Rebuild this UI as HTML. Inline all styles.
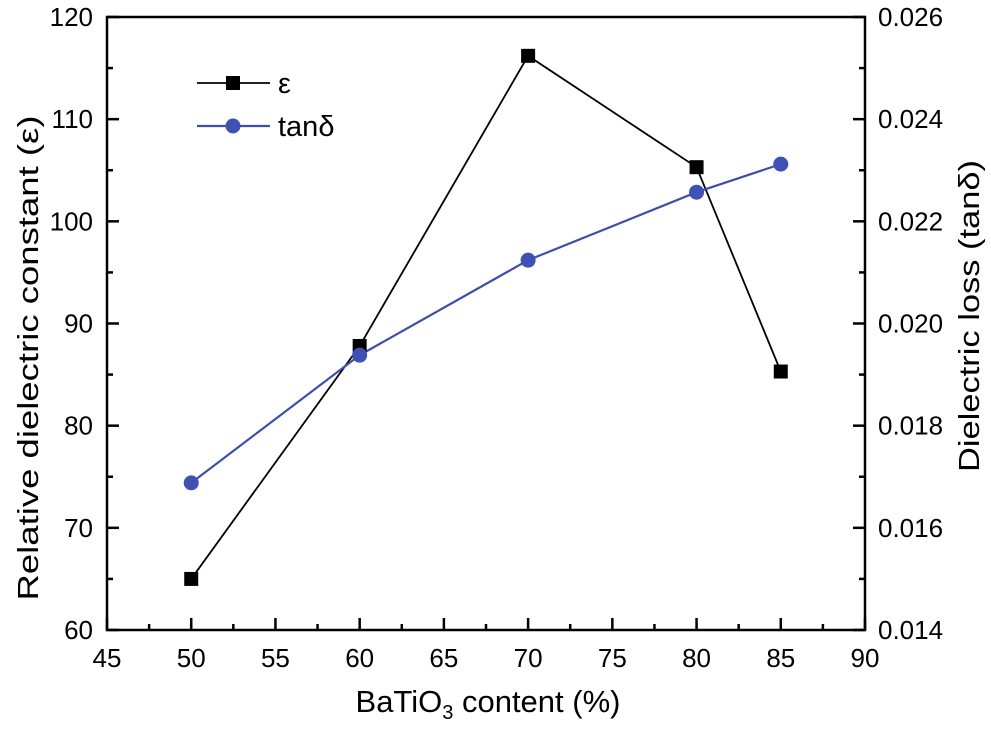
<!DOCTYPE html>
<html><head><meta charset="utf-8"><style>
body{margin:0;background:#fff;}
svg{display:block;font-family:"Liberation Sans",Arial,sans-serif;}
</style></head><body>
<svg id="chart" width="991" height="731"></svg>
<script>
const categories=[50,60,70,80,85];
const epsValues=[65.0,87.8,116.2,105.3,85.3];
const tanValues=[0.01688,0.01938,0.02124,0.02257,0.02312];
const xTicks=[45,50,55,60,65,70,75,80,85,90];
const yTicks=[60,70,80,90,100,110,120];
const y2Ticks=[0.014,0.016,0.018,0.020,0.022,0.024,0.026];
const NS="http://www.w3.org/2000/svg";
const svg=document.getElementById('chart');
const L=107,R=865,T=17,B=630;
const xs=v=>L+(v-45)/45*(R-L);
const ys=v=>B-(v-60)/60*(B-T);
const y2s=v=>B-(v-0.014)/0.012*(B-T);
function el(tag,attrs,parent){const e=document.createElementNS(NS,tag);for(const k in attrs)e.setAttribute(k,attrs[k]);(parent||svg).appendChild(e);return e;}
const axes=el('g',{});


el('rect',{x:L,y:T,width:R-L,height:B-T,fill:'none',stroke:'#000','stroke-width':2.5},axes);
xTicks.forEach((t,i)=>{
  const x=xs(t);
  el('line',{x1:x,x2:x,y1:B,y2:B-12,stroke:'#000','stroke-width':2.5},axes);
  if(i<xTicks.length-1){const m=xs(t+2.5);el('line',{x1:m,x2:m,y1:B,y2:B-6,stroke:'#000','stroke-width':2.5},axes);}
  const tx=el('text',{x:x,y:B+37,'font-size':26,'text-anchor':'middle'},axes);tx.textContent=t;
  
  
});
yTicks.forEach((t,i)=>{
  const y=ys(t);
  el('line',{x1:L,x2:L+12,y1:y,y2:y,stroke:'#000','stroke-width':2.5},axes);
  if(i<yTicks.length-1){const m=ys(t+5);el('line',{x1:L,x2:L+6,y1:m,y2:m,stroke:'#000','stroke-width':2.5},axes);}
  const tx=el('text',{x:L-14,y:y+9,'font-size':26,'text-anchor':'end'},axes);tx.textContent=t;
  
  
});
y2Ticks.forEach((t,i)=>{
  const y=y2s(t);
  el('line',{x1:R,x2:R-12,y1:y,y2:y,stroke:'#000','stroke-width':2.5},axes);
  if(i<y2Ticks.length-1){const m=y2s(t+0.001);el('line',{x1:R,x2:R-6,y1:m,y2:m,stroke:'#000','stroke-width':2.5},axes);}
  const tx=el('text',{x:R+13,y:y+9,'font-size':26,'text-anchor':'start'},axes);tx.textContent=t.toFixed(3);
  
  
});
const xt=el('text',{x:488,y:712,'font-size':31,'text-anchor':'middle'});
xt.innerHTML='BaTiO<tspan font-size="20" dy="7">3</tspan><tspan dy="-7"> content (%)</tspan>';


const yt=el('text',{x:0,y:0,'font-size':29,'text-anchor':'middle',textLength:485,lengthAdjust:'spacingAndGlyphs',transform:`translate(38,358) rotate(-90)`});
yt.textContent='Relative dielectric constant (ε)';


const yt2=el('text',{x:0,y:0,'font-size':29,'text-anchor':'middle',textLength:312,lengthAdjust:'spacingAndGlyphs',transform:`translate(979,316) rotate(-90)`});
yt2.textContent='Dielectric loss (tanδ)';


const ep=el('polyline',{points:categories.map((c,i)=>xs(c)+','+ys(epsValues[i])).join(' '),fill:'none',stroke:'#000','stroke-width':1.8});


const tp=el('polyline',{points:categories.map((c,i)=>xs(c)+','+y2s(tanValues[i])).join(' '),fill:'none',stroke:'#3f4fa8','stroke-width':2.2});


categories.forEach((c,i)=>{
  const r=el('rect',{x:xs(c)-7,y:ys(epsValues[i])-7,width:14,height:14,fill:'#000'});
  
  
});
categories.forEach((c,i)=>{
  const p=el('circle',{cx:xs(c),cy:y2s(tanValues[i]),r:7.5,fill:'#3f51b5'});
  
  
});
const lg=el('g',{});


el('line',{x1:197,x2:270,y1:83,y2:83,stroke:'#000','stroke-width':1.8},lg);
el('rect',{x:226,y:76,width:14,height:14,fill:'#000'},lg);
const l1=el('text',{x:278,y:93,'font-size':29},lg);l1.textContent='ε';
el('line',{x1:197,x2:270,y1:126,y2:126,stroke:'#3f4fa8','stroke-width':2.2},lg);
el('circle',{cx:233,cy:126,r:7.5,fill:'#3f51b5'},lg);
const l2=el('text',{x:278,y:136,'font-size':29},lg);l2.textContent='tanδ';
</script>
</body></html>
